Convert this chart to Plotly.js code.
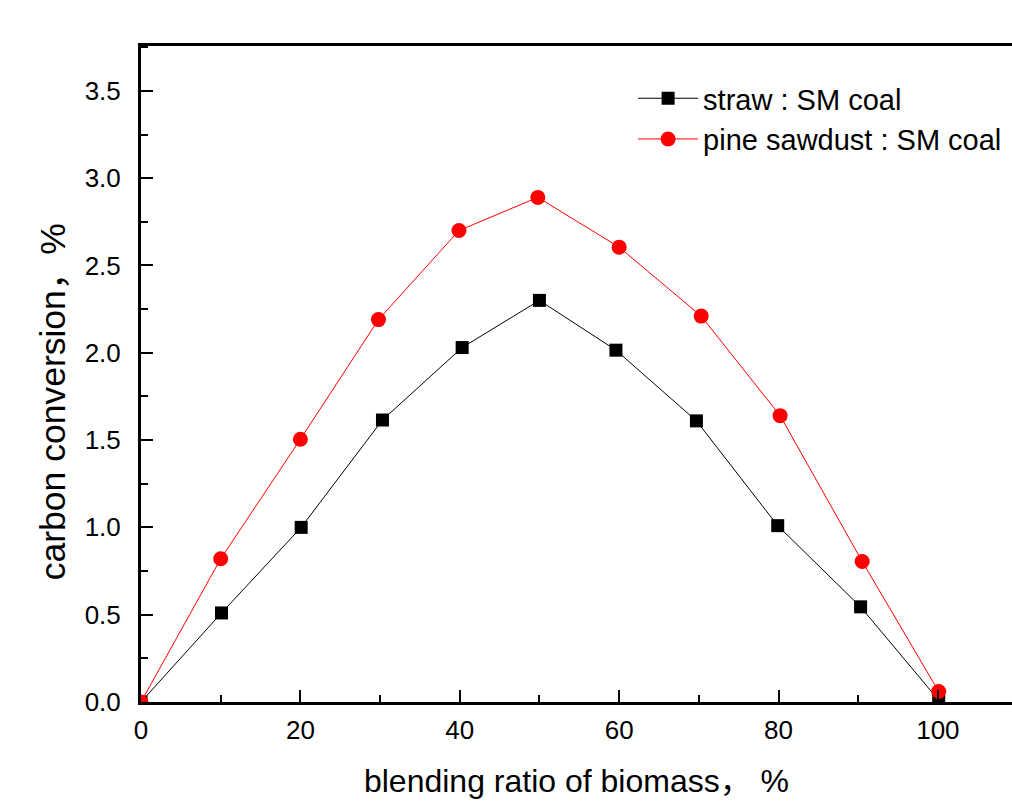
<!DOCTYPE html>
<html>
<head>
<meta charset="utf-8">
<script src="https://cdn.plot.ly/plotly-3.0.1.min.js"></script>
<style>html,body{margin:0;padding:0;background:#fff;}</style>
</head>
<body>
<div id="chart" style="width:1012px;height:809px;"></div>
<script>
const strawX = [0, 10.1, 20.1, 30.3, 40.3, 50.0, 59.6, 69.7, 79.9, 90.3, 100.1];
const strawY = [0.0, 0.51, 1.00, 1.615, 2.03, 2.30, 2.015, 1.61, 1.01, 0.545, 0.01];
const pineX = [0, 10.0, 20.0, 29.8, 39.9, 49.8, 60.0, 70.3, 80.2, 90.5, 100.1];
const pineY = [0.0, 0.82, 1.505, 2.19, 2.70, 2.89, 2.605, 2.21, 1.64, 0.805, 0.06];
const seriesNames = ["straw : SM coal", "pine sawdust : SM coal"];
const xTitle = "blending ratio of biomass\uFF0C %";
const yTitle = "carbon conversion\uFF0C%";

const font = "Liberation Sans, Arial, Noto Sans CJK SC, sans-serif";

const traces = [
  {x: strawX, y: strawY, name: seriesNames[0], mode: "lines+markers", type: "scatter",
   line: {color: "#000000", width: 1}, marker: {symbol: "square", size: 13, color: "#000000"}},
  {x: pineX, y: pineY, name: seriesNames[1], mode: "lines+markers", type: "scatter",
   line: {color: "#ff0000", width: 1}, marker: {symbol: "circle", size: 15, color: "#ff0000"}}
];

const layout = {
  width: 1012, height: 809,
  margin: {l: 141, r: 0, t: 46, b: 107},
  paper_bgcolor: "#ffffff", plot_bgcolor: "#ffffff",
  font: {family: font, color: "#000000", size: 26},
  showlegend: true,
  legend: {x: 0.565, y: 0.959, xanchor: "left", yanchor: "top", bgcolor: "rgba(0,0,0,0)",
           font: {size: 29, family: font}, itemwidth: 60, tracegroupgap: 0},
  xaxis: {
    range: [0, 109.3], dtick: 20, tick0: 0, showgrid: false, zeroline: false,
    showline: true, linewidth: 3, linecolor: "#000", mirror: true,
    ticks: "inside", ticklen: 12, tickwidth: 2, tickcolor: "#000",
    minor: {dtick: 10, ticks: "inside", ticklen: 7, tickwidth: 2, tickcolor: "#000", showgrid: false},
    ticklabelstandoff: 3,
    tickfont: {size: 26, family: font},
    title: {text: xTitle, font: {size: 32, family: font}, standoff: 26}
  },
  yaxis: {
    range: [0, 3.757], dtick: 0.5, tick0: 0, tickformat: ".1f", showgrid: false, zeroline: false,
    showline: true, linewidth: 3, linecolor: "#000", mirror: false,
    ticks: "inside", ticklen: 12, tickwidth: 2, tickcolor: "#000",
    minor: {dtick: 0.25, ticks: "inside", ticklen: 7, tickwidth: 2, tickcolor: "#000", showgrid: false},
    ticklabelstandoff: 12,
    tickfont: {size: 26, family: font}
  },
  annotations: [{
    text: yTitle, xref: "paper", yref: "paper", x: -0.101, y: 0.457,
    xanchor: "center", yanchor: "middle", textangle: -90, showarrow: false,
    font: {size: 35.5, family: font, color: "#000"}
  }]
};

Plotly.newPlot("chart", traces, layout, {displayModeBar: false, staticPlot: true});
</script>
</body>
</html>
